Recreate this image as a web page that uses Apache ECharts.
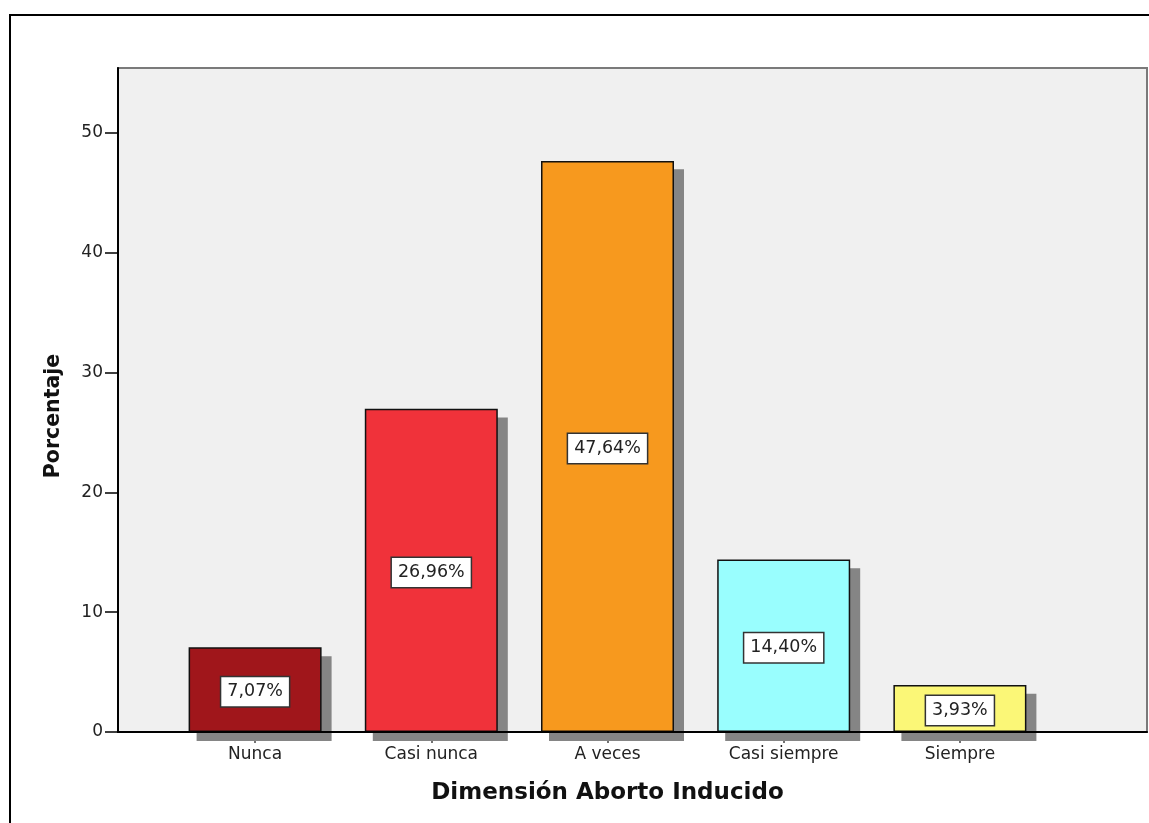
<!DOCTYPE html>
<html>
<head>
<meta charset="utf-8">
<script src="https://cdn.jsdelivr.net/npm/echarts@6/dist/echarts.min.js"></script>
<style>
html,body{margin:0;padding:0;background:#fff;}
#chart{width:1149px;height:823px;}
</style>
</head>
<body>
<div id="chart"></div>
<script>
const categories = ['Nunca', 'Casi nunca', 'A veces', 'Casi siempre', 'Siempre'];
const percentages = [7.07, 26.96, 47.64, 14.40, 3.93];
const barColors = ['#a0161b', '#f0323a', '#f7991e', '#99fefe', '#fbf777'];
const yTicks = [0, 10, 20, 30, 40, 50];
const yMax = 55.4;
const xTitle = 'Dimensión Aborto Inducido';
const yTitle = 'Porcentaje';

const FONT = 'DejaVu Sans';
const chart = echarts.init(document.getElementById('chart'));

const option = {
  animation: false,
  backgroundColor: '#ffffff',
  graphic: [{
    type: 'rect',
    z: -10,
    shape: { x: 10, y: 15, width: 1400, height: 1000 },
    style: { fill: 'none', stroke: '#000', lineWidth: 2 }
  }],
  grid: [
    { left: 118, right: 2, top: 68, bottom: 91, show: true, backgroundColor: '#f0f0f0', borderColor: '#7a7a7a', borderWidth: 2 },
    { left: 167, right: 101, top: 68, bottom: 91 },
    { left: 176, right: 92, top: 76, bottom: 82 }
  ],
  xAxis: [
    { gridIndex: 0, type: 'value', min: 0, max: 1, z: 5,
      axisLine: { show: true, lineStyle: { color: '#000', width: 2 } },
      axisTick: { show: false }, axisLabel: { show: false }, splitLine: { show: false } },
    { gridIndex: 1, type: 'category', data: categories,
      axisLine: { show: false },
      axisTick: { show: true, alignWithLabel: true, length: 11, lineStyle: { color: '#444', width: 1.5 } },
      axisLabel: { fontFamily: FONT, fontSize: 17, color: '#222', margin: 14 },
      name: xTitle, nameLocation: 'middle', nameGap: 50,
      nameTextStyle: { fontFamily: FONT, fontSize: 23, fontWeight: 'bold', color: '#111' } },
    { gridIndex: 2, type: 'category', data: categories, show: false }
  ],
  yAxis: [
    { gridIndex: 0, type: 'value', min: 0, max: yMax,
      axisLine: { show: true, lineStyle: { color: '#000', width: 2 } },
      axisTick: { show: true, customValues: yTicks, length: 13, lineStyle: { color: '#000', width: 1.5 } },
      axisLabel: { customValues: yTicks, fontFamily: FONT, fontSize: 17, color: '#222', margin: 15 },
      splitLine: { show: false },
      name: yTitle, nameLocation: 'middle', nameGap: 54, nameRotate: 90,
      nameTextStyle: { fontFamily: FONT, fontSize: 20.5, fontWeight: 'bold', color: '#111', padding: [0, 32, 0, 0] } },
    { gridIndex: 1, type: 'value', min: 0, max: yMax, show: false },
    { gridIndex: 2, type: 'value', min: 0, max: yMax, show: false }
  ],
  series: [
    { type: 'bar', xAxisIndex: 2, yAxisIndex: 2, z: 2, barWidth: 135, silent: true,
      data: percentages,
      itemStyle: { color: '#858585' } },
    { type: 'bar', xAxisIndex: 1, yAxisIndex: 1, z: 3, barWidth: 133,
      data: percentages.map((v, i) => ({ value: v, itemStyle: { color: barColors[i] } })),
      itemStyle: { borderColor: '#111', borderWidth: 1.5 },
      label: {
        show: true, position: 'inside', offset: [0, 2],
        formatter: p => p.value.toFixed(2).replace('.', ',') + '%',
        fontFamily: FONT, fontSize: 17.5, color: '#222',
        backgroundColor: '#ffffff', borderColor: '#333', borderWidth: 1.5,
        padding: [6, 6, 5, 6]
      } }
  ]
};
chart.setOption(option);
</script>
</body>
</html>
